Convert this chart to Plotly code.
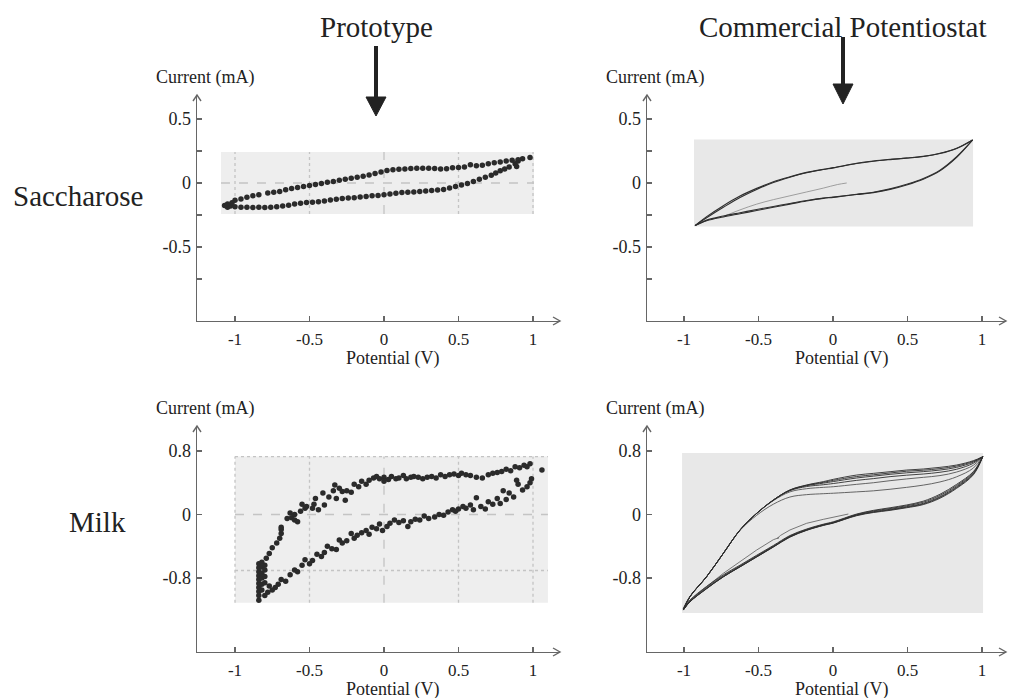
import plotly.graph_objects as go

W, H = 1009, 698
FONT = "Liberation Serif"
TXT = "#222222"
AX = "#666666"

# ---------------- data ----------------
x_ticks = [-1, -0.5, 0, 0.5, 1]
x_tick_text = ["-1", "-0.5", "0", "0.5", "1"]
y_ticks_sac = [-0.75, -0.5, -0.25, 0, 0.25, 0.5]
y_tick_text_sac = ["", "-0.5", "", "0", "", "0.5"]
y_ticks_milk = [-0.8, 0, 0.8]
y_tick_text_milk = ["-0.8", "0", "0.8"]

# Saccharose, prototype (scatter points)
sp_fwd_x = [-1.07, -1.05, -1.03, -1.00, -0.96, -0.92, -0.88, -0.84, -0.80, -0.76, -0.72, -0.68,
            -0.64, -0.60, -0.56, -0.52, -0.48, -0.44, -0.40, -0.36, -0.32, -0.28, -0.24, -0.20,
            -0.16, -0.12, -0.08, -0.04, 0.00, 0.04, 0.08, 0.12, 0.16, 0.20, 0.24, 0.28, 0.32,
            0.36, 0.40, 0.44, 0.48, 0.52, 0.56, 0.60, 0.64, 0.68, 0.72, 0.75, 0.78, 0.81, 0.84,
            0.88, 0.89, 0.90]
sp_fwd_y = [-0.175, -0.19, -0.18, -0.185, -0.19, -0.19, -0.192, -0.19, -0.192, -0.19, -0.186, -0.18,
            -0.174, -0.165, -0.158, -0.152, -0.15, -0.146, -0.14, -0.132, -0.126, -0.121, -0.118, -0.115,
            -0.11, -0.105, -0.1, -0.097, -0.092, -0.085, -0.08, -0.075, -0.072, -0.07, -0.066, -0.062, -0.058,
            -0.055, -0.05, -0.04, -0.028, -0.016, -0.003, 0.012, 0.03, 0.045, 0.06, 0.078, 0.095, 0.11, 0.125,
            0.15, 0.128, 0.172]
sp_rev_x = [0.98, 0.93, 0.90, 0.86, 0.82, 0.78, 0.74, 0.70, 0.66, 0.62, 0.58, 0.54, 0.50, 0.46,
            0.42, 0.38, 0.34, 0.30, 0.26, 0.22, 0.18, 0.14, 0.10, 0.06, 0.02, -0.02, -0.06, -0.10,
            -0.14, -0.18, -0.22, -0.26, -0.30, -0.34, -0.38, -0.42, -0.46, -0.50, -0.54, -0.58,
            -0.62, -0.66, -0.70, -0.74, -0.78, -0.84, -0.88, -0.92, -0.96, -1.00, -1.02, -1.05]
sp_rev_y = [0.2, 0.19, 0.182, 0.178, 0.172, 0.165, 0.158, 0.15, 0.138, 0.135, 0.142, 0.125, 0.122, 0.12,
            0.112, 0.11, 0.114, 0.116, 0.115, 0.115, 0.113, 0.11, 0.107, 0.104, 0.098, 0.085, 0.075, 0.062,
            0.053, 0.045, 0.038, 0.03, 0.022, 0.012, 0.005, -0.003, -0.012, -0.02, -0.027, -0.035,
            -0.042, -0.052, -0.066, -0.072, -0.078, -0.092, -0.1, -0.112, -0.125, -0.135, -0.155, -0.165]

# Milk, prototype (scatter points)
mp_up_x = [-0.84, -0.84, -0.84, -0.84, -0.84, -0.84, -0.84, -0.84, -0.84, -0.84, -0.82, -0.82, -0.82,
           -0.82, -0.82, -0.82, -0.80, -0.80, -0.80, -0.80, -0.79, -0.77, -0.75, -0.72, -0.70, -0.69,
           -0.69, -0.69, -0.65, -0.63, -0.62, -0.60, -0.60, -0.58, -0.56, -0.55, -0.53, -0.52, -0.48,
           -0.47, -0.46, -0.44, -0.41, -0.40, -0.37, -0.34, -0.33, -0.32, -0.30, -0.28, -0.26, -0.25,
           -0.22, -0.20, -0.17, -0.15, -0.12, -0.10, -0.07, -0.05, -0.03, 0.0, 0.0, 0.03, 0.05, 0.08,
           0.10, 0.13, 0.15, 0.18, 0.20, 0.23, 0.26, 0.29, 0.32, 0.35, 0.38, 0.41, 0.44, 0.47, 0.50,
           0.52, 0.55, 0.58, 0.62, 0.66, 0.70, 0.73, 0.76, 0.79, 0.82, 0.85, 0.88, 0.91, 0.94, 0.96,
           0.98, 1.06]
mp_up_y = [-1.08, -1.02, -0.97, -0.92, -0.87, -0.82, -0.77, -0.72, -0.67, -0.62, -0.95, -0.88, -0.80,
           -0.74, -0.66, -0.60, -0.86, -0.78, -0.70, -0.64, -0.55, -0.49, -0.42, -0.36, -0.30, -0.24,
           -0.19, -0.16, -0.05, 0.02, -0.04, -0.07, 0.0, -0.09, 0.04, 0.13, 0.08, 0.10, 0.08,
           0.13, 0.20, 0.06, 0.27, 0.12, 0.22, 0.30, 0.37, 0.20, 0.33, 0.29, 0.18, 0.30,
           0.28, 0.38, 0.35, 0.42, 0.38, 0.43, 0.46, 0.48, 0.45, 0.47, 0.42, 0.44, 0.48, 0.45,
           0.46, 0.49, 0.45, 0.47, 0.48, 0.47, 0.45, 0.47, 0.48, 0.46, 0.50, 0.48, 0.50, 0.51, 0.49,
           0.52, 0.50, 0.49, 0.47, 0.46, 0.50, 0.52, 0.53, 0.54, 0.57, 0.55, 0.60, 0.59, 0.62, 0.60,
           0.64, 0.56]
mp_lo_x = [0.99, 0.98, 0.96, 0.93, 0.90, 0.89, 0.87, 0.84, 0.82, 0.80, 0.78, 0.76, 0.73, 0.70, 0.68,
           0.65, 0.62, 0.60, 0.58, 0.55, 0.53, 0.50, 0.48, 0.46, 0.43, 0.40, 0.37, 0.34, 0.30, 0.27,
           0.24, 0.21, 0.18, 0.16, 0.13, 0.10, 0.07, 0.04, 0.02, -0.01, -0.03, -0.05, -0.08, -0.10,
           -0.12, -0.15, -0.18, -0.20, -0.22, -0.25, -0.28, -0.30, -0.32, -0.35, -0.38, -0.40, -0.42,
           -0.45, -0.48, -0.50, -0.53, -0.55, -0.58, -0.60, -0.63, -0.66, -0.69, -0.71, -0.73, -0.75,
           -0.77, -0.78, -0.80]
mp_lo_y = [0.45, 0.40, 0.35, 0.31, 0.38, 0.43, 0.22, 0.27, 0.19, 0.30, 0.14, 0.20, 0.13, 0.16, 0.07,
           0.10, 0.21, 0.06, 0.12, 0.08, 0.10, 0.07, 0.04, 0.06, 0.03, -0.01, 0.0, -0.03, -0.05, -0.02,
           -0.07, -0.06, -0.09, -0.15, -0.08, -0.10, -0.07, -0.11, -0.15, -0.20, -0.12, -0.18, -0.16, -0.25,
           -0.20, -0.23, -0.26, -0.30, -0.24, -0.33, -0.36, -0.32, -0.44, -0.43, -0.40, -0.48, -0.53,
           -0.50, -0.58, -0.62, -0.57, -0.64, -0.72, -0.70, -0.76, -0.84, -0.82, -0.88, -0.92, -0.95,
           -0.90, -0.98, -1.02]

# Saccharose, commercial potentiostat (curves)
sc_up_x = [-0.926, -0.848, -0.736, -0.624, -0.512, -0.40, -0.289, -0.177, -0.065, 0.002, 0.159,
           0.271, 0.383, 0.494, 0.606, 0.718, 0.830, 0.937]
sc_up_a = [-0.333, -0.263, -0.177, -0.102, -0.042, 0.010, 0.049, 0.083, 0.107, 0.120, 0.154,
           0.172, 0.185, 0.195, 0.208, 0.232, 0.271, 0.336]
sc_up_b = [-0.333, -0.272, -0.19, -0.113, -0.05, 0.004, 0.045, 0.08, 0.105, 0.118, 0.152,
           0.17, 0.183, 0.194, 0.207, 0.23, 0.27, 0.336]
sc_lo_x = [0.937, 0.830, 0.718, 0.606, 0.494, 0.383, 0.271, 0.159, 0.002, -0.065, -0.177,
           -0.289, -0.40, -0.512, -0.624, -0.736, -0.848, -0.926]
sc_lo_a = [0.336, 0.2, 0.095, 0.03, -0.015, -0.05, -0.075, -0.09, -0.112, -0.12, -0.14,
           -0.165, -0.19, -0.215, -0.24, -0.265, -0.295, -0.333]
sc_lo_b = [0.336, 0.205, 0.1, 0.035, -0.01, -0.046, -0.072, -0.088, -0.11, -0.118, -0.137,
           -0.16, -0.183, -0.207, -0.232, -0.258, -0.29, -0.333]
sc_init_x = [0.092, 0.03, -0.065, -0.177, -0.289, -0.40, -0.512, -0.624, -0.736]
sc_init_y = [0.0, -0.012, -0.04, -0.07, -0.1, -0.13, -0.165, -0.21, -0.262]

# Milk, commercial potentiostat (curves, several cycles)
mc_up_x = [-1.005, -0.960, -0.848, -0.736, -0.624, -0.512, -0.40, -0.289, -0.177, -0.065, 0.002,
           0.159, 0.271, 0.383, 0.494, 0.606, 0.718, 0.830, 0.942, 1.005]
mc_up_cycles = [
    [-1.182, -1.03, -0.78, -0.49, -0.2, -0.01, 0.13, 0.22, 0.25, 0.262, 0.268, 0.285, 0.298, 0.318, 0.342, 0.37, 0.41, 0.475, 0.585, 0.728],
    [-1.2, -1.033, -0.782, -0.489, -0.196, 0.013, 0.175, 0.285, 0.325, 0.342, 0.35, 0.38, 0.40, 0.426, 0.448, 0.468, 0.49, 0.535, 0.62, 0.728],
    [-1.203, -1.034, -0.783, -0.489, -0.195, 0.015, 0.18, 0.3, 0.352, 0.375, 0.39, 0.43, 0.452, 0.477, 0.495, 0.51, 0.532, 0.57, 0.645, 0.728],
    [-1.203, -1.035, -0.783, -0.489, -0.195, 0.015, 0.182, 0.305, 0.363, 0.395, 0.415, 0.46, 0.483, 0.506, 0.525, 0.54, 0.56, 0.594, 0.66, 0.728],
    [-1.203, -1.035, -0.783, -0.489, -0.195, 0.015, 0.183, 0.308, 0.368, 0.405, 0.43, 0.478, 0.5, 0.523, 0.545, 0.558, 0.578, 0.61, 0.67, 0.728],
    [-1.203, -1.035, -0.783, -0.489, -0.195, 0.015, 0.183, 0.309, 0.372, 0.414, 0.443, 0.497, 0.518, 0.539, 0.560, 0.573, 0.594, 0.623, 0.678, 0.728],
]
mc_lo_x = [1.005, 0.942, 0.830, 0.718, 0.606, 0.494, 0.383, 0.271, 0.159, 0.002, -0.065, -0.177,
           -0.289, -0.40, -0.512, -0.624, -0.736, -0.848, -0.960, -1.005]
mc_lo_cycles = [
    [0.728, 0.50, 0.33, 0.205, 0.125, 0.085, 0.052, 0.025, -0.015, -0.108, -0.138, -0.2, -0.285, -0.41, -0.535, -0.66, -0.785, -0.935, -1.1, -1.203],
    [0.728, 0.51, 0.34, 0.215, 0.133, 0.092, 0.058, 0.03, -0.01, -0.105, -0.135, -0.197, -0.282, -0.407, -0.533, -0.658, -0.784, -0.932, -1.099, -1.203],
    [0.728, 0.518, 0.351, 0.225, 0.141, 0.099, 0.065, 0.036, -0.006, -0.103, -0.132, -0.195, -0.279, -0.405, -0.531, -0.657, -0.783, -0.930, -1.098, -1.203],
    [0.728, 0.53, 0.365, 0.24, 0.155, 0.11, 0.075, 0.045, 0.0, -0.098, -0.128, -0.19, -0.272, -0.398, -0.522, -0.648, -0.772, -0.918, -1.09, -1.203],
    [0.728, 0.54, 0.38, 0.255, 0.168, 0.12, 0.085, 0.052, 0.006, -0.092, -0.122, -0.183, -0.265, -0.39, -0.513, -0.638, -0.76, -0.905, -1.08, -1.203],
]
mc_init_x = [0.103, 0.047, -0.065, -0.177, -0.289, -0.351, -0.374, -0.362, -0.40, -0.512, -0.624, -0.736, -0.848, -0.960, -1.005]
mc_init_y = [0.006, -0.015, -0.061, -0.111, -0.195, -0.262, -0.30, -0.292, -0.317, -0.447, -0.594, -0.741, -0.909, -1.077, -1.182]

# inset backgrounds [x0, x1, y0, y1] and their grid lines
box_sp = [-1.094, 1.007, -0.242, 0.242]
box_sc = [-0.933, 0.94, -0.34, 0.34]
box_mp = [-1.0, 1.1, -1.11, 0.73]
box_mc = [-1.013, 1.007, -1.24, 0.775]
grid_sp_dot_x = [-1, -0.5, 0.5, 1]
grid_mp_dot_x = [-1, -0.5, 0.5, 1]
grid_mp_dot_y = [0.728, -0.705]

# ---------------- layout geometry (pixels) ----------------
panels = {
    "sp": dict(l=197, r=560, t=95, b=321, xm1=235, xp1=533, y0=183, yu=128),
    "sc": dict(l=647, r=1006, t=95, b=321, xm1=684, xp1=982, y0=183, yu=128),
    "mp": dict(l=197, r=560, t=426, b=652, xm1=235, xp1=533, y0=514.5, yu=79.4),
    "mc": dict(l=647, r=1006, t=426, b=652, xm1=684, xp1=982, y0=514.5, yu=79.4),
}
order = ["sp", "sc", "mp", "mc"]

def px(x):
    return x / W

def py(y):
    return 1 - y / H

fig = go.Figure()
layout = {}
shapes = []
annotations = []

for i, key in enumerate(order):
    p = panels[key]
    n = "" if i == 0 else str(i + 1)
    ux = (p["xp1"] - p["xm1"]) / 2.0
    xr = [-1 + (p["l"] - p["xm1"]) / ux, -1 + (p["r"] - p["xm1"]) / ux]
    yr = [-(p["b"] - p["y0"]) / p["yu"], (p["y0"] - p["t"]) / p["yu"]]
    sac = key in ("sp", "sc")
    layout["xaxis" + n] = dict(
        domain=[px(p["l"]), px(p["r"])], range=xr, anchor="y" + n,
        tickvals=x_ticks, ticktext=x_tick_text, ticks="inside", ticklen=5,
        tickcolor=AX, tickwidth=1.3, showline=True, linecolor=AX, linewidth=1.4,
        showgrid=False, zeroline=False, fixedrange=True, ticklabelstandoff=2,
        tickfont=dict(family=FONT, size=17, color=TXT),
    )
    layout["yaxis" + n] = dict(
        domain=[py(p["b"]), py(p["t"])], range=yr, anchor="x" + n,
        tickvals=y_ticks_sac if sac else y_ticks_milk,
        ticktext=y_tick_text_sac if sac else y_tick_text_milk,
        ticks="inside", ticklen=5, tickcolor=AX, tickwidth=1.3,
        showline=True, linecolor=AX, linewidth=1.4, showgrid=False, zeroline=False,
        fixedrange=True, ticklabelstandoff=1,
        tickfont=dict(family=FONT, size=18, color=TXT),
    )
    L, R, T, B = p["l"], p["r"], p["t"], p["b"]
    shapes.append(dict(type="path", xref="paper", yref="paper",
                       path=f"M {px(R-7)} {py(B-4)} L {px(R)} {py(B)} L {px(R-7)} {py(B+4)}",
                       line=dict(color=AX, width=1.4)))
    shapes.append(dict(type="path", xref="paper", yref="paper",
                       path=f"M {px(L-4)} {py(T+6)} L {px(L)} {py(T)} L {px(L+4)} {py(T+6)}",
                       line=dict(color=AX, width=1.4)))
    annotations.append(dict(x=px(p["l"] + 8), y=py(p["t"] - 18), xref="paper", yref="paper",
                            text="Current (mA)", showarrow=False, xanchor="center", yanchor="middle",
                            font=dict(family=FONT, size=18, color=TXT)))
    annotations.append(dict(x=px(p["xm1"] + (p["xp1"] - p["xm1"]) / 2 + 8), y=py(p["b"] + 37.5),
                            xref="paper", yref="paper",
                            text="Potential (V)", showarrow=False, xanchor="center", yanchor="middle",
                            font=dict(family=FONT, size=18, color=TXT)))

fig.update_layout(**layout)

def box_shapes(box, xa, ya, color):
    return dict(type="rect", xref=xa, yref=ya, x0=box[0], x1=box[1], y0=box[2], y1=box[3],
                fillcolor=color, line=dict(width=0), layer="below")

GRID = "#c4c4c4"
shapes.append(box_shapes(box_sp, "x", "y", "#eeeeee"))
shapes.append(box_shapes(box_sc, "x2", "y2", "#e8e8e8"))
shapes.append(box_shapes(box_mp, "x3", "y3", "#eeeeee"))
shapes.append(box_shapes(box_mc, "x4", "y4", "#e8e8e8"))

for gx in grid_sp_dot_x:
    shapes.append(dict(type="line", xref="x", yref="y", x0=gx, x1=gx, y0=box_sp[2], y1=box_sp[3],
                       line=dict(color=GRID, width=1.3, dash="dot"), layer="below"))
shapes.append(dict(type="line", xref="x", yref="y", x0=0, x1=0, y0=box_sp[2], y1=box_sp[3],
                   line=dict(color=GRID, width=1.3, dash="dash"), layer="below"))
shapes.append(dict(type="line", xref="x", yref="y", x0=box_sp[0], x1=box_sp[1], y0=0, y1=0,
                   line=dict(color=GRID, width=1.3, dash="dash"), layer="below"))
for gx in grid_mp_dot_x:
    shapes.append(dict(type="line", xref="x3", yref="y3", x0=gx, x1=gx, y0=box_mp[2], y1=box_mp[3],
                       line=dict(color=GRID, width=1.3, dash="dot"), layer="below"))
for gy in grid_mp_dot_y:
    shapes.append(dict(type="line", xref="x3", yref="y3", x0=box_mp[0], x1=box_mp[1], y0=gy, y1=gy,
                       line=dict(color=GRID, width=1.3, dash="dot"), layer="below"))
shapes.append(dict(type="line", xref="x3", yref="y3", x0=0, x1=0, y0=box_mp[2], y1=box_mp[3],
                   line=dict(color=GRID, width=1.3, dash="dash"), layer="below"))
shapes.append(dict(type="line", xref="x3", yref="y3", x0=box_mp[0], x1=box_mp[1], y0=0, y1=0,
                   line=dict(color=GRID, width=1.3, dash="dash"), layer="below"))

for (ax_x, y_top, y_head, y_tip) in [(376, 46, 97, 116), (843, 37, 84, 104)]:
    shapes.append(dict(type="line", xref="paper", yref="paper", x0=px(ax_x), x1=px(ax_x),
                       y0=py(y_top), y1=py(y_head + 2), line=dict(color="#222222", width=4)))
    shapes.append(dict(type="path", xref="paper", yref="paper",
                       path=f"M {px(ax_x-10)} {py(y_head)} L {px(ax_x+10)} {py(y_head)} L {px(ax_x)} {py(y_tip)} Z",
                       fillcolor="#222222", line=dict(color="#222222", width=1)))

for text, x, y in [("Prototype", 376, 27), ("Commercial Potentiostat", 843, 27),
                   ("Saccharose", 78, 196), ("Milk", 97, 522)]:
    annotations.append(dict(x=px(x), y=py(y), xref="paper", yref="paper", text=text,
                            showarrow=False, xanchor="center", yanchor="middle",
                            font=dict(family=FONT, size=29, color=TXT)))

DOT = "#2b2b2b"
mk = dict(color=DOT, size=5.5)
fig.add_trace(go.Scatter(x=sp_fwd_x, y=sp_fwd_y, mode="markers", marker=mk, xaxis="x", yaxis="y"))
fig.add_trace(go.Scatter(x=sp_rev_x, y=sp_rev_y, mode="markers", marker=mk, xaxis="x", yaxis="y"))
fig.add_trace(go.Scatter(x=mp_up_x, y=mp_up_y, mode="markers", marker=dict(color=DOT, size=5.5),
                         xaxis="x3", yaxis="y3"))
fig.add_trace(go.Scatter(x=mp_lo_x, y=mp_lo_y, mode="markers", marker=dict(color=DOT, size=5.5),
                         xaxis="x3", yaxis="y3"))

LN = "#2e2e2e"
fig.add_trace(go.Scatter(x=sc_init_x, y=sc_init_y, mode="lines", line=dict(color="#8a8a8a", width=0.8, shape="spline"),
                         xaxis="x2", yaxis="y2"))
for ys in (sc_up_a, sc_up_b):
    fig.add_trace(go.Scatter(x=sc_up_x, y=ys, mode="lines", line=dict(color=LN, width=1.1, shape="spline"),
                             xaxis="x2", yaxis="y2"))
for ys in (sc_lo_a, sc_lo_b):
    fig.add_trace(go.Scatter(x=sc_lo_x, y=ys, mode="lines", line=dict(color=LN, width=1.1, shape="spline"),
                             xaxis="x2", yaxis="y2"))

fig.add_trace(go.Scatter(x=mc_init_x, y=mc_init_y, mode="lines", line=dict(color="#6a6a6a", width=0.9),
                         xaxis="x4", yaxis="y4"))
for k, ys in enumerate(mc_up_cycles):
    fig.add_trace(go.Scatter(x=mc_up_x, y=ys, mode="lines",
                             line=dict(color="#555555" if k < 2 else LN, width=0.9, shape="spline"),
                             xaxis="x4", yaxis="y4"))
for ys in mc_lo_cycles:
    fig.add_trace(go.Scatter(x=mc_lo_x, y=ys, mode="lines", line=dict(color=LN, width=0.9, shape="spline"),
                             xaxis="x4", yaxis="y4"))

fig.update_layout(
    width=W, height=H, autosize=False, margin=dict(l=0, r=0, t=0, b=0),
    paper_bgcolor="white", plot_bgcolor="white", showlegend=False,
    shapes=shapes, annotations=annotations, hovermode=False,
)
fig.write_html("out.html", config={"displayModeBar": False, "staticPlot": True},
               post_script="document.body.style.margin='0';document.body.style.overflow='hidden';")
